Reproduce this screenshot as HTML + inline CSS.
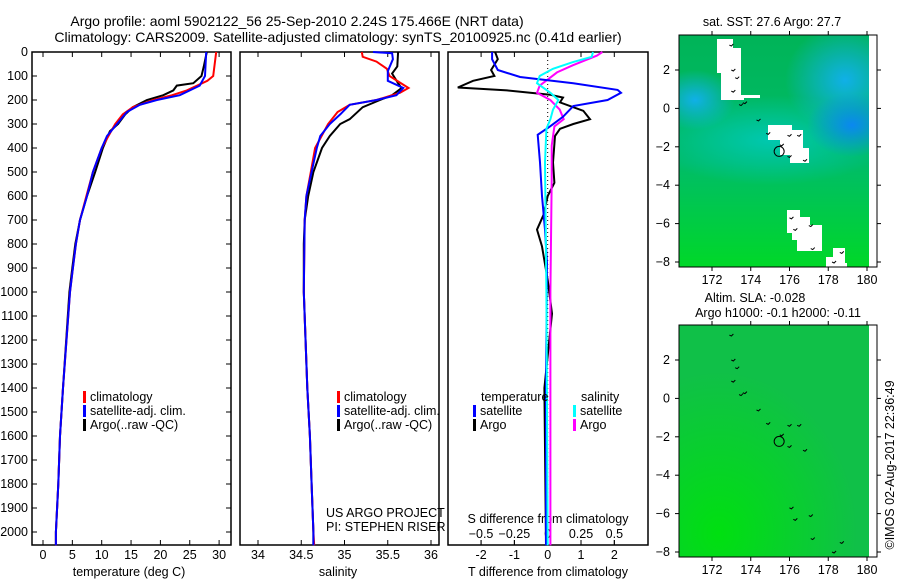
<!DOCTYPE html>
<html><head><meta charset="utf-8"><style>
html,body{margin:0;padding:0;background:#fff;}
svg{display:block;font-family:"Liberation Sans",sans-serif;font-size:12.5px;}
</style></head><body>
<svg id="c" width="900" height="580" viewBox="0 0 900 580">
<defs>
<clipPath id="clip1"><rect x="679" y="35" width="198" height="232"/></clipPath>
<clipPath id="clip2"><rect x="679" y="325" width="198" height="232"/></clipPath>
<radialGradient id="gb1" cx="0.5" cy="0.5" r="0.5"><stop offset="0" stop-color="#0a88f0"/><stop offset="1" stop-color="#0a88f0" stop-opacity="0"/></radialGradient>
<radialGradient id="gb2" cx="0.5" cy="0.5" r="0.5"><stop offset="0" stop-color="#10b0e8"/><stop offset="1" stop-color="#10b0e8" stop-opacity="0"/></radialGradient>
<radialGradient id="gt" cx="0.5" cy="0.5" r="0.5"><stop offset="0" stop-color="#00c8b0"/><stop offset="1" stop-color="#00c8b0" stop-opacity="0"/></radialGradient>
<linearGradient id="gbase" x1="0" y1="0" x2="0" y2="1"><stop offset="0" stop-color="#00b458"/><stop offset="0.55" stop-color="#00bc68"/><stop offset="1" stop-color="#00d828"/></linearGradient>
<radialGradient id="gsla" cx="0.2" cy="0.9" r="0.7"><stop offset="0" stop-color="#00e010"/><stop offset="1" stop-color="#10c048"/></radialGradient>
</defs>
<text x="297" y="26" text-anchor="middle" font-size="14">Argo profile: aoml 5902122_56 25-Sep-2010 2.24S 175.466E (NRT data)</text>
<text x="338" y="42" text-anchor="middle" font-size="14">Climatology: CARS2009. Satellite-adjusted climatology: synTS_20100925.nc (0.41d earlier)</text>
<g id="p1"></g>
<g id="p2"></g>
<g id="p3"></g>
<g id="m1"></g>
<g id="m2"></g>
<text transform="translate(894,465) rotate(-90)" text-anchor="middle">©IMOS 02-Aug-2017 22:36:49</text>
</svg>
<script>
// ---- data ----
const tDepthClim = [0,100,120,160,180,200,230,260,300,400,500,600,700,800,900,1000,1400,1600,1800,2000,2055];
const tClim      = [29.5,29,28,24.5,22,18.8,15.3,13.6,12.3,10,8.5,7.4,6.3,5.6,5.1,4.6,3.4,2.9,2.6,2.2,2.2];
const tDepthSat  = [0,100,140,180,200,220,250,300,350,400,500,600,700,800,900,1000,1400,1600,1800,2000,2055];
const tSat       = [27.8,27.6,26.7,23.3,19.4,16.5,14.3,12.6,10.9,10,8.5,7.5,6.3,5.6,5.1,4.6,3.4,2.9,2.6,2.2,2.2];
const tDepthArgo = [0,60,100,130,140,160,180,200,230,260,300,330,400,500,600,700,800,900,1000,1400,1600,1800,2000,2055];
const tArgo      = [27.9,27.4,27,25.6,22.8,22.2,20.5,17.7,15.3,14,12.8,11.4,10.2,8.9,7.5,6.3,5.5,5.0,4.5,3.4,2.9,2.6,2.2,2.2];

const sDepthClim = [0,20,40,70,100,150,170,200,220,250,300,400,500,600,700,1000,1400,1600,1800,2000,2055];
const sClim      = [35.2,35.21,35.37,35.49,35.52,35.74,35.64,35.37,35.06,34.92,34.81,34.66,34.61,34.56,34.54,34.53,34.57,34.6,34.62,34.64,34.65];
const sDepthSat  = [0,5,30,80,120,150,180,200,220,260,300,350,400,500,600,700,1000,1400,1600,1800,2000,2055];
const sSat       = [35.33,35.55,35.56,35.5,35.5,35.68,35.6,35.37,35.06,34.95,34.83,34.72,34.68,34.62,34.56,34.54,34.53,34.57,34.6,34.62,34.64,34.64];
const sDepthArgo = [0,60,90,130,150,180,200,230,280,300,350,400,500,600,700,800,900,1000,1400,1600,1800,2000,2055];
const sArgo      = [35.62,35.61,35.55,35.62,35.66,35.55,35.41,35.21,35.06,34.95,34.83,34.74,34.64,34.58,34.54,34.53,34.53,34.53,34.57,34.6,34.62,34.64,34.64];

const dtDepthSat = [0,30,75,104,130,158,170,200,225,270,310,345,460,600,740,880,1400,2055];
const dtSat      = [-1.67,-1.67,-1.5,-0.83,0.77,2.1,2.2,1.8,0.77,0.46,0.07,-0.3,-0.23,-0.17,-0.08,-0.02,-0.05,-0.05];
const dtDepthArgo= [0,30,75,100,120,148,160,178,190,210,245,280,300,320,350,460,545,600,680,740,810,950,1090,1400,2055];
const dtArgo     = [-1.58,-1.5,-1.7,-1.6,-2.24,-2.7,-1.22,0.07,0.46,0.37,1.07,1.27,0.77,0.37,0.22,0.16,0.2,0,-0.13,-0.32,-0.17,0,0.13,-0.1,-0.05];
const dsDepthSat = [0,20,42,70,100,130,170,200,240,280,320,460,1000,2055];
const dsSat      = [0.34,0.33,0.19,0.04,-0.06,-0.08,0.02,0.08,0.04,0.02,-0.01,-0.02,-0.01,0];
const dsDepthArgo= [0,15,55,85,115,140,170,200,240,280,310,390,530,1000,2055];
const dsArgo     = [0.41,0.37,0.19,0.07,0,-0.06,-0.08,0.02,0.09,0.12,0.05,0.03,0.03,0.02,0.02];

const depthTicks = [0,100,200,300,400,500,600,700,800,900,1000,1100,1200,1300,1400,1500,1600,1700,1800,1900,2000];
const tempTicks = [0,5,10,15,20,25,30];
const salTicks = [34,34.5,35,35.5,36];
const salTickLabels = ["34","34.5","35","35.5","36"];
const dtTicks = [-2,-1,0,1,2];
const dsTicks = [-0.5,-0.25,0,0.25,0.5];
const lonTicks = [172,174,176,178,180];
const latTicks = [2,0,-2,-4,-6,-8];
const argoLon = 175.466, argoLat = -2.24;

// ---- helpers ----
const NS = "http://www.w3.org/2000/svg";
function mk(tag, parent, attrs){const e=document.createElementNS(NS,tag);for(const k in attrs)e.setAttribute(k,attrs[k]);parent.appendChild(e);return e;}
const yD = d => 52 + d*0.24;
const xT = v => 43 + v*5.87;
const xS = v => 258 + (v-34)*86.5;
const xDT = v => 547.7 + v*33.3;
const xDS = v => 547.7 + v*133.3;
const lonX = lon => 712 + (lon-172)*19.375;
const latY1 = lat => 70 + (2-lat)*19.2;
const latY2 = lat => 360 + (2-lat)*19.2;

function line(g, xs, ds, fx, color, name){
  const pts = xs.map((v,i)=>fx(v).toFixed(1)+","+yD(ds[i]).toFixed(1)).join(" ");
  const p = mk("polyline", g, {points:pts, fill:"none", stroke:color, "stroke-width":2});
  
  
}
function frame(g, x0, x1, name){
  const r = mk("rect", g, {x:x0, y:52, width:x1-x0, height:493, fill:"none", stroke:"#000", "stroke-width":1.5});
  
  
}
function txt(g, x, y, s, anchor, name){
  const t = mk("text", g, {x:x, y:y, "text-anchor":anchor||"start"});
  t.textContent = s;
  
  
  return t;
}
function legend(g, x, y, color, label, name){
  const r = mk("rect", g, {x:x, y:y-10, width:3, height:12, fill:color});
  
  
  txt(g, x+7, y, label, "start", name);
}

// ---- panel 1 ----
const p1 = document.getElementById("p1");
frame(p1, 32, 231, "temperature-frame");
depthTicks.forEach(d=>{
  txt(p1, 28, yD(d)+4, String(d), "end", "depth-tick-label");
  mk("line", p1, {x1:32,x2:37,y1:yD(d),y2:yD(d),stroke:"#000"});
  mk("line", p1, {x1:226,x2:231,y1:yD(d),y2:yD(d),stroke:"#000"});
});
tempTicks.forEach(v=>{
  mk("line", p1, {x1:xT(v),x2:xT(v),y1:545,y2:540,stroke:"#000"});
  mk("line", p1, {x1:xT(v),x2:xT(v),y1:52,y2:57,stroke:"#000"});
  txt(p1, xT(v), 559, String(v), "middle", "temperature-tick-label");
});
txt(p1, 129, 576, "temperature (deg C)", "middle", "x-axis-title-temperature");
line(p1, tArgo, tDepthArgo, xT, "#000", "temperature-argo-line");
line(p1, tClim, tDepthClim, xT, "#f00", "temperature-climatology-line");
line(p1, tSat, tDepthSat, xT, "#00f", "temperature-satellite-line");
legend(p1, 83, 401, "#f00", "climatology", "legend-climatology");
legend(p1, 83, 415, "#00f", "satellite-adj. clim.", "legend-satellite");
legend(p1, 83, 429, "#000", "Argo(..raw -QC)", "legend-argo");

// ---- panel 2 ----
const p2 = document.getElementById("p2");
frame(p2, 240, 439, "salinity-frame");
salTicks.forEach((v,i)=>{
  mk("line", p2, {x1:xS(v),x2:xS(v),y1:545,y2:540,stroke:"#000"});
  mk("line", p2, {x1:xS(v),x2:xS(v),y1:52,y2:57,stroke:"#000"});
  txt(p2, xS(v), 559, salTickLabels[i], "middle", "salinity-tick-label");
});
txt(p2, 338, 576, "salinity", "middle", "x-axis-title-salinity");
line(p2, sArgo, sDepthArgo, xS, "#000", "salinity-argo-line");
line(p2, sClim, sDepthClim, xS, "#f00", "salinity-climatology-line");
line(p2, sSat, sDepthSat, xS, "#00f", "salinity-satellite-line");
legend(p2, 337, 401, "#f00", "climatology", "legend-climatology-sal");
legend(p2, 337, 415, "#00f", "satellite-adj. clim.", "legend-satellite-sal");
legend(p2, 337, 429, "#000", "Argo(..raw -QC)", "legend-argo-sal");
txt(p2, 326, 517, "US ARGO PROJECT", "start", "project-credit");
txt(p2, 326, 531, "PI: STEPHEN RISER", "start", "pi-credit");

// ---- panel 3 ----
const p3 = document.getElementById("p3");
frame(p3, 448, 648, "difference-frame");
mk("line", p3, {x1:xDT(0),x2:xDT(0),y1:52,y2:545,stroke:"#000","stroke-dasharray":"1,3"});
dtTicks.forEach(v=>{
  mk("line", p3, {x1:xDT(v),x2:xDT(v),y1:545,y2:540,stroke:"#000"});
  mk("line", p3, {x1:xDT(v),x2:xDT(v),y1:52,y2:57,stroke:"#000"});
  txt(p3, xDT(v), 559, String(v), "middle", "t-diff-tick-label");
});
dsTicks.forEach(v=>{
  mk("line", p3, {x1:xDS(v),x2:xDS(v),y1:540,y2:545,stroke:"#000"});
  txt(p3, xDS(v), 538, String(v).replace("-","\u2212"), "middle", "s-diff-tick-label");
});
txt(p3, 548, 523, "S difference from climatology", "middle", "s-diff-axis-title");
txt(p3, 548, 576, "T difference from climatology", "middle", "t-diff-axis-title");
line(p3, dtArgo, dtDepthArgo, xDT, "#000", "t-diff-argo-line");
line(p3, dsArgo, dsDepthArgo, xDS, "#f0f", "s-diff-argo-line");
line(p3, dtSat, dtDepthSat, xDT, "#00f", "t-diff-satellite-line");
line(p3, dsSat, dsDepthSat, xDS, "#0ff", "s-diff-satellite-line");
txt(p3, 481, 401, "temperature", "start", "legend-temperature-heading");
legend(p3, 473, 415, "#00f", "satellite", "legend-t-satellite");
legend(p3, 473, 429, "#000", "Argo", "legend-t-argo");
txt(p3, 581, 401, "salinity", "start", "legend-salinity-heading");
legend(p3, 573, 415, "#0ff", "satellite", "legend-s-satellite");
legend(p3, 573, 429, "#f0f", "Argo", "legend-s-argo");

// ---- maps ----
function mapAxes(g, y0, latY, nm){
  const fr = mk("rect", g, {x:679, y:y0, width:198, height:232, fill:"none", stroke:"#000", "stroke-width":1});
  
  
  lonTicks.forEach(v=>{
    mk("line", g, {x1:lonX(v),x2:lonX(v),y1:y0,y2:y0-4,stroke:"#000"});
    mk("line", g, {x1:lonX(v),x2:lonX(v),y1:y0+232,y2:y0+236,stroke:"#000"});
    txt(g, lonX(v), y0+249, String(v), "middle", "longitude-tick-label");
  });
  latTicks.forEach(v=>{
    mk("line", g, {x1:675,x2:679,y1:latY(v),y2:latY(v),stroke:"#000"});
    mk("line", g, {x1:877,x2:881,y1:latY(v),y2:latY(v),stroke:"#000"});
    txt(g, 670, latY(v)+4, String(v).replace("-","\u2212"), "end", "latitude-tick-label");
  });
  const c = mk("circle", g, {cx:lonX(argoLon), cy:latY(argoLat), r:5, fill:"none", stroke:"#000", "stroke-width":1});
  
  
  const isl = [[173.0,3.3],[173.1,2.0],[173.3,1.6],[173.1,0.9],[173.7,0.3],[173.5,0.2],[174.4,-0.6],[174.9,-1.3],[175.6,-1.9],[176.0,-1.4],[176.5,-1.4],[176.0,-2.5],[176.8,-2.7],[176.1,-5.7],[176.3,-6.3],[177.1,-6.1],[177.2,-7.3],[178.7,-7.5],[178.3,-8.0]];
  isl.forEach(p=>{ mk("path", g, {d:`M${lonX(p[0])-2},${latY(p[1])} l2,1 l2,-2`, fill:"none", stroke:"#000", "stroke-width":1}); });
}
const m1 = document.getElementById("m1");
m1.innerHTML = `<g clip-path="url(#clip1)">
<rect x="679" y="35" width="198" height="232" fill="url(#gbase)"/>
<ellipse cx="770" cy="140" rx="120" ry="45" fill="url(#gt)"/>
<ellipse cx="845" cy="80" rx="60" ry="55" fill="url(#gb2)"/>
<ellipse cx="695" cy="100" rx="40" ry="30" fill="url(#gb2)"/>
<ellipse cx="852" cy="125" rx="45" ry="32" fill="url(#gb1)"/>
<path d="M717,39 H733 V48 H741 V95 H760 V98 H744 V100 H721 V73 H717 Z" fill="#fff"/>
<path d="M768,125 H792 V130 H803 V148 H809 V163 H790 V155 H780 V140 H768 Z" fill="#fff"/>
<path d="M787,210 H800 V217 H810 V225 H822 V251 H797 V240 H792 V233 H787 Z" fill="#fff"/>
<path d="M826,257 H833 V248 H845 V263 H847 V267 H826 Z" fill="#fff"/>
<rect x="869" y="35" width="8" height="232" fill="#fff"/></g>`;
txt(m1, 772, 26, "sat. SST: 27.6 Argo: 27.7", "middle", "sst-map-title");
mapAxes(m1, 35, latY1, "sst-map");

const m2 = document.getElementById("m2");
m2.innerHTML = `<g clip-path="url(#clip2)"><rect x="679" y="325" width="198" height="232" fill="url(#gsla)"/>
<rect x="869" y="325" width="8" height="232" fill="#fff"/></g>`;
txt(m2, 755, 302, "Altim. SLA: -0.028", "middle", "sla-map-title");
txt(m2, 778, 317, "Argo h1000: -0.1 h2000: -0.11", "middle", "sla-map-subtitle");
mapAxes(m2, 325, latY2, "sla-map");
</script>
</body></html>
